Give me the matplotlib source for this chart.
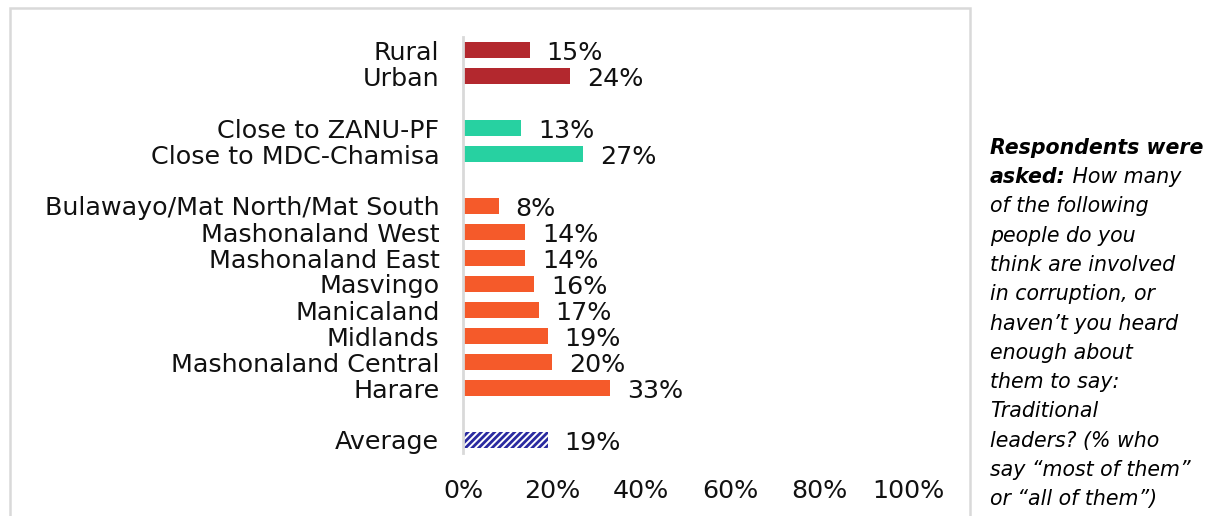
import matplotlib
matplotlib.use('Agg')
import matplotlib.pyplot as plt
from matplotlib.patches import Rectangle

# Data
categories = ['Rural', 'Urban',
              'Close to ZANU-PF', 'Close to MDC-Chamisa',
              'Bulawayo/Mat North/Mat South', 'Mashonaland West', 'Mashonaland East',
              'Masvingo', 'Manicaland', 'Midlands', 'Mashonaland Central', 'Harare',
              'Average']
values = [15, 24, 13, 27, 8, 14, 14, 16, 17, 19, 20, 33, 19]
groups = ['area', 'area', 'party', 'party',
          'region', 'region', 'region', 'region', 'region', 'region', 'region', 'region',
          'avg']
positions = [0, 1, 3, 4, 6, 7, 8, 9, 10, 11, 12, 13, 15]
x_ticks = [0, 20, 40, 60, 80, 100]

colors = {'area': '#B3282E', 'party': '#27D1A1', 'region': '#F55A2A', 'avg': 'white'}

plt.rcParams['font.family'] = ['DejaVu Sans']
plt.rcParams['hatch.color'] = '#2A2AA0'
plt.rcParams['hatch.linewidth'] = 2.0

W, H = 1220, 516
fig = plt.figure(figsize=(W / 100, H / 100), dpi=100)

# outer frame
fig.patches.append(Rectangle((10 / W, -0.1), 960 / W, 1.1 - 8 / H,
                             transform=fig.transFigure, fill=False,
                             edgecolor='#d9d9d9', linewidth=1.8))

FS = 18.3
ax = fig.add_axes([463 / W, 1 - 453 / H, 445 / W, 416 / H])
for pos, val, grp in zip(positions, values, groups):
    if grp == 'avg':
        ax.barh(pos, val, height=0.58, color='white', edgecolor='#2A2AA0',
                hatch='/////', linewidth=0)
    else:
        ax.barh(pos, val, height=0.58, color=colors[grp], linewidth=0)
    ax.text(val + 3.8, pos + 0.12, f'{val}%', ha='left', va='center',
            fontsize=FS, color='#111111')

ax.set_xlim(0, 100)
ax.set_ylim(15.5, -0.5)
ax.set_yticks(positions)
ax.set_yticklabels(categories, fontsize=FS, color='#111111')
ax.set_xticks(x_ticks)
ax.set_xticklabels([f'{t}%' for t in x_ticks], fontsize=FS, color='#111111')
ax.tick_params(axis='both', length=0)
ax.tick_params(axis='y', pad=17)
ax.tick_params(axis='x', pad=19)
for s in ['top', 'right', 'bottom']:
    ax.spines[s].set_visible(False)
ax.spines['left'].set_color('#d9d9d9')
ax.spines['left'].set_linewidth(2)

# side note
note_lines = ['asked:', 'of the following', 'people do you', 'think are involved',
              'in corruption, or', "haven\u2019t you heard", 'enough about',
              'them to say:', 'Traditional', 'leaders? (% who',
              'say \u201cmost of them\u201d', 'or \u201call of them\u201d)']
NFS = 14.8
x0 = 990 / W
y_first = 1 - 154 / H
step = 29.25 / H
fig.text(x0, y_first, 'Respondents were', fontsize=NFS, fontweight='bold',
         style='italic', va='baseline', ha='left')
t = fig.text(x0, y_first - step, 'asked:', fontsize=NFS, fontweight='bold',
             style='italic', va='baseline', ha='left')
ax.annotate(' How many', xy=(1, 0), xycoords=t, fontsize=NFS, style='italic',
            va='bottom', ha='left', annotation_clip=False)
for i, line in enumerate(note_lines[1:], start=2):
    fig.text(x0, y_first - i * step, line, fontsize=NFS, style='italic',
             va='baseline', ha='left')

fig.savefig('out.png', dpi=100)
